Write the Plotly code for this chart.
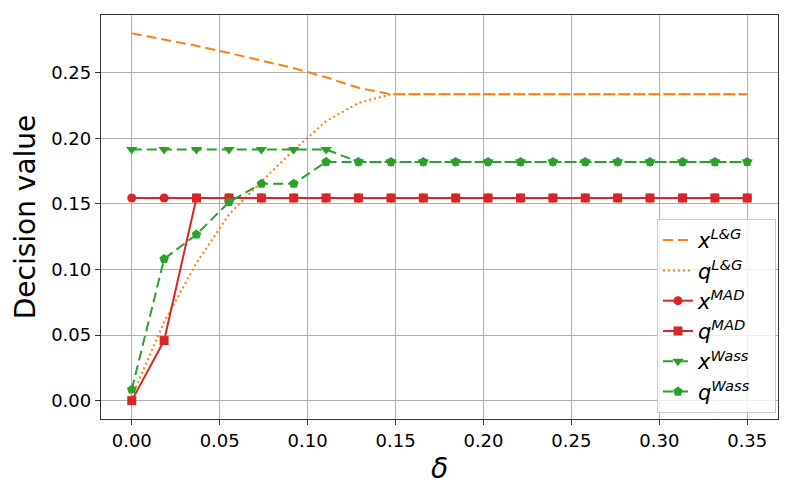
import plotly.graph_objects as go

delta = [0.0, 0.0184, 0.0368, 0.0553, 0.0737, 0.0921, 0.1105, 0.1289, 0.1474, 0.1658,
         0.1842, 0.2026, 0.2211, 0.2395, 0.2579, 0.2763, 0.2947, 0.3132, 0.3316, 0.35]

x_lg = [0.280, 0.2752, 0.2705, 0.2650, 0.2595, 0.2535, 0.2465, 0.2385, 0.2335, 0.2335,
        0.2335, 0.2335, 0.2335, 0.2335, 0.2335, 0.2335, 0.2335, 0.2335, 0.2335, 0.2335]
q_lg = [0.003, 0.060, 0.105, 0.142, 0.167, 0.191, 0.213, 0.227, 0.2335, 0.2335,
        0.2335, 0.2335, 0.2335, 0.2335, 0.2335, 0.2335, 0.2335, 0.2335, 0.2335, 0.2335]
x_mad = [0.1545] * 20
q_mad = [0.0, 0.0458, 0.1545, 0.1545, 0.1545, 0.1545, 0.1545, 0.1545, 0.1545, 0.1545,
         0.1545, 0.1545, 0.1545, 0.1545, 0.1545, 0.1545, 0.1545, 0.1545, 0.1545, 0.1545]
x_wass = [0.1915, 0.1915, 0.1915, 0.1915, 0.1915, 0.1915, 0.1915, 0.182, 0.182, 0.182,
          0.182, 0.182, 0.182, 0.182, 0.182, 0.182, 0.182, 0.182, 0.182, 0.182]
q_wass = [0.0085, 0.108, 0.1267, 0.1514, 0.1654, 0.1654, 0.182, 0.182, 0.182, 0.182,
          0.182, 0.182, 0.182, 0.182, 0.182, 0.182, 0.182, 0.182, 0.182, 0.182]

x_ticks = [0.0, 0.05, 0.10, 0.15, 0.20, 0.25, 0.30, 0.35]
y_ticks = [0.0, 0.05, 0.10, 0.15, 0.20, 0.25]

ORANGE = "#ff7f0e"
RED = "#d62728"
GREEN = "#2ca02c"

PAD = "&nbsp;&nbsp;&nbsp;"

fig = go.Figure()
fig.add_trace(go.Scatter(x=delta, y=x_lg, mode="lines", name="<i>x</i><sup><i>L&amp;G</i></sup>" + PAD,
                         line=dict(color=ORANGE, width=2, dash="10px,5px")))
fig.add_trace(go.Scatter(x=delta, y=q_lg, mode="lines", name="<i>q</i><sup><i>L&amp;G</i></sup>" + PAD,
                         line=dict(color=ORANGE, width=2, dash="2px,3px")))
fig.add_trace(go.Scatter(x=delta, y=x_mad, mode="lines+markers", name="<i>x</i><sup><i>MAD</i></sup>" + PAD,
                         line=dict(color=RED, width=2),
                         marker=dict(symbol="circle", size=9, color=RED)))
fig.add_trace(go.Scatter(x=delta, y=q_mad, mode="lines+markers", name="<i>q</i><sup><i>MAD</i></sup>" + PAD,
                         line=dict(color=RED, width=2),
                         marker=dict(symbol="square", size=9, color=RED)))
fig.add_trace(go.Scatter(x=delta, y=x_wass, mode="lines+markers", name="<i>x</i><sup><i>Wass</i></sup>" + PAD,
                         line=dict(color=GREEN, width=2, dash="10px,5px"),
                         marker=dict(symbol="triangle-down", size=10, color=GREEN)))
fig.add_trace(go.Scatter(x=delta, y=q_wass, mode="lines+markers", name="<i>q</i><sup><i>Wass</i></sup>" + PAD,
                         line=dict(color=GREEN, width=2, dash="10px,5px"),
                         marker=dict(symbol="pentagon", size=10, color=GREEN)))

axis_common = dict(showgrid=True, gridcolor="#b0b0b0", gridwidth=1,
                   showline=True, linecolor="#333333", linewidth=1.3, mirror=True,
                   ticks="outside", ticklen=5, tickcolor="#333333", zeroline=False,
                   automargin=False,
                   tickfont=dict(family="DejaVu Sans", size=18, color="black"))

# The page body has an 8px margin, so the figure is 8px smaller and shifted.
fig.update_layout(
    width=785, height=488,
    paper_bgcolor="white", plot_bgcolor="white",
    margin=dict(l=93, r=15, t=7, b=77),
    font=dict(family="DejaVu Sans", color="black"),
    xaxis=dict(range=[-0.0175, 0.3675], tickvals=x_ticks, tickformat=".2f",
               title=dict(text="<i>δ</i>", font=dict(size=28), standoff=8), **axis_common),
    yaxis=dict(range=[-0.014, 0.294], tickvals=y_ticks, tickformat=".2f",
               title=dict(text="Decision value", font=dict(size=28), standoff=7), **axis_common),
    legend=dict(x=0.997, y=0.015, xanchor="right", yanchor="bottom",
                bgcolor="rgba(255,255,255,0.8)", bordercolor="#cccccc", borderwidth=1,
                font=dict(family="DejaVu Sans", size=21), tracegroupgap=0),
    showlegend=True,
)

fig.write_html("out.html")
